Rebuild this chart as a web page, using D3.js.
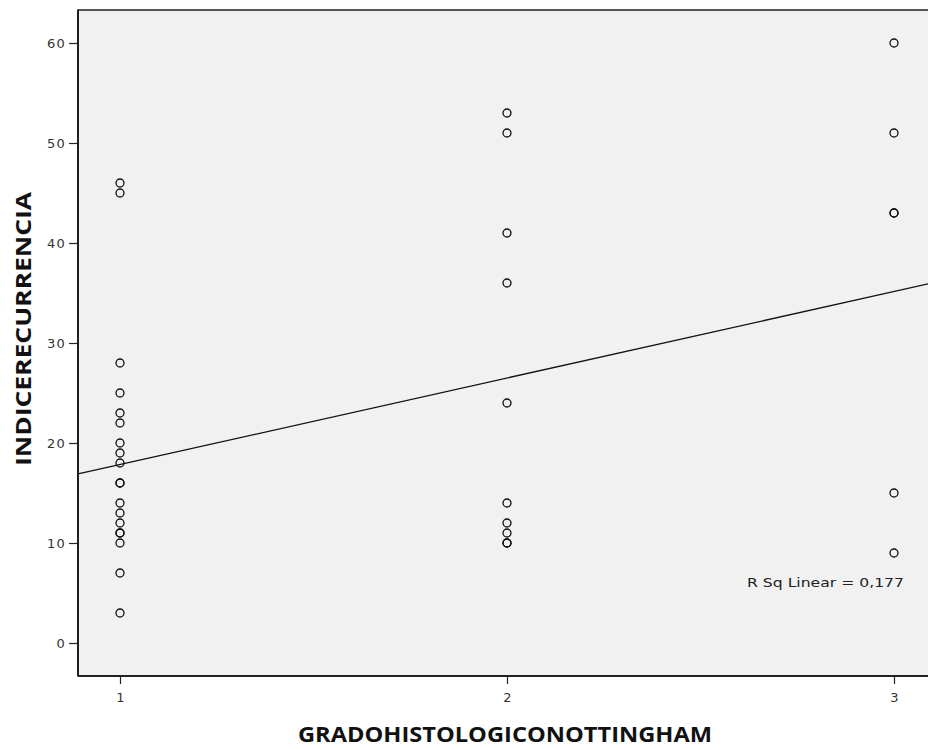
<!DOCTYPE html>
<html>
<head>
<meta charset="utf-8">
<script src="https://cdn.jsdelivr.net/npm/d3@7"></script>
<style>
  html, body { margin: 0; padding: 0; background: #ffffff; }
  svg { display: block; }
</style>
</head>
<body>
<svg id="chart" width="928" height="750"></svg>
<script>
// ---- data ----
const grade1 = [46, 45, 28, 25, 23, 22, 20, 19, 18, 16, 16, 14, 13, 12, 11, 11, 10, 7, 3];
const grade2 = [53, 51, 41, 36, 24, 14, 12, 11, 10, 10];
const grade3 = [60, 51, 43, 43, 15, 9];
const xTicks = [1, 2, 3];
const yTicks = [0, 10, 20, 30, 40, 50, 60];
const fitIntercept = 9.2;   // regression line
const fitSlope = 8.65;
const rSqLabel = "R Sq Linear = 0,177";
const xTitle = "GRADOHISTOLOGICONOTTINGHAM";
const yTitle = "INDICERECURRENCIA";

const points = [
  ...grade1.map(v => ({x: 1, y: v})),
  ...grade2.map(v => ({x: 2, y: v})),
  ...grade3.map(v => ({x: 3, y: v}))
];

const svg = d3.select("#chart");
const plot = {left: 78, top: 10, right: 936, bottom: 676};

const x = d3.scaleLinear().domain([1, 3]).range([120, 894]);
const y = d3.scaleLinear().domain([0, 60]).range([643, 43]);

// plot background
svg.append("rect")
  .attr("x", plot.left).attr("y", plot.top)
  .attr("width", plot.right - plot.left).attr("height", plot.bottom - plot.top)
  .attr("fill", "#f1f1f1")
  .attr("stroke", "#111").attr("stroke-width", 1.4);

const tickFont = "'DejaVu Sans', sans-serif";

// y axis
const gy = svg.append("g")
  .attr("transform", `translate(${plot.left},0)`)
  .call(d3.axisLeft(y).tickValues(yTicks).tickSize(9).tickPadding(3).tickFormat(d3.format("d")));
gy.select(".domain").remove();
gy.selectAll(".tick line").attr("stroke", "#222").attr("stroke-width", 1.2);
gy.selectAll(".tick text")
  .attr("font-family", tickFont).attr("font-size", 13).attr("fill", "#333")
  .attr("letter-spacing", 1.2);

// x axis
const gx = svg.append("g")
  .attr("transform", `translate(0,${plot.bottom})`)
  .call(d3.axisBottom(x).tickValues(xTicks).tickSize(8).tickPadding(9).tickFormat(d3.format("d")));
gx.select(".domain").remove();
gx.selectAll(".tick line").attr("stroke", "#222").attr("stroke-width", 1.2);
gx.selectAll(".tick text")
  .attr("font-family", tickFont).attr("font-size", 13).attr("fill", "#333");

// redraw left & bottom borders darker
svg.append("line").attr("x1", plot.left).attr("x2", plot.left)
  .attr("y1", plot.top).attr("y2", plot.bottom).attr("stroke", "#111").attr("stroke-width", 1.6);
svg.append("line").attr("x1", plot.left).attr("x2", plot.right)
  .attr("y1", plot.bottom).attr("y2", plot.bottom).attr("stroke", "#111").attr("stroke-width", 1.6);

// regression line clipped to plot
const x0 = x.invert(plot.left), x1 = x.invert(plot.right);
svg.append("line")
  .attr("x1", x(x0)).attr("y1", y(fitIntercept + fitSlope * x0))
  .attr("x2", x(x1)).attr("y2", y(fitIntercept + fitSlope * x1))
  .attr("stroke", "#111").attr("stroke-width", 1.3);

// points
svg.append("g").selectAll("circle")
  .data(points).join("circle")
  .attr("cx", d => x(d.x)).attr("cy", d => y(d.y))
  .attr("r", 4)
  .attr("fill", "none")
  .attr("stroke", "#111").attr("stroke-width", 1.3);

// R Sq label
svg.append("text")
  .attr("x", 747).attr("y", 587)
  .attr("font-family", "'DejaVu Sans', sans-serif").attr("font-size", 13)
  .attr("fill", "#222")
  .attr("textLength", 157).attr("lengthAdjust", "spacingAndGlyphs")
  .text(rSqLabel);

// axis titles
svg.append("text")
  .attr("x", 298).attr("y", 742)
  .attr("font-family", "'Open Sans', sans-serif").attr("font-weight", 700).attr("font-size", 22)
  .attr("fill", "#111")
  .attr("textLength", 414).attr("lengthAdjust", "spacingAndGlyphs")
  .text(xTitle);

svg.append("text")
  .attr("transform", "translate(31,466) rotate(-90)")
  .attr("font-family", "'Open Sans', sans-serif").attr("font-weight", 700).attr("font-size", 22)
  .attr("fill", "#111")
  .attr("textLength", 274).attr("lengthAdjust", "spacingAndGlyphs")
  .text(yTitle);
</script>
</body>
</html>
